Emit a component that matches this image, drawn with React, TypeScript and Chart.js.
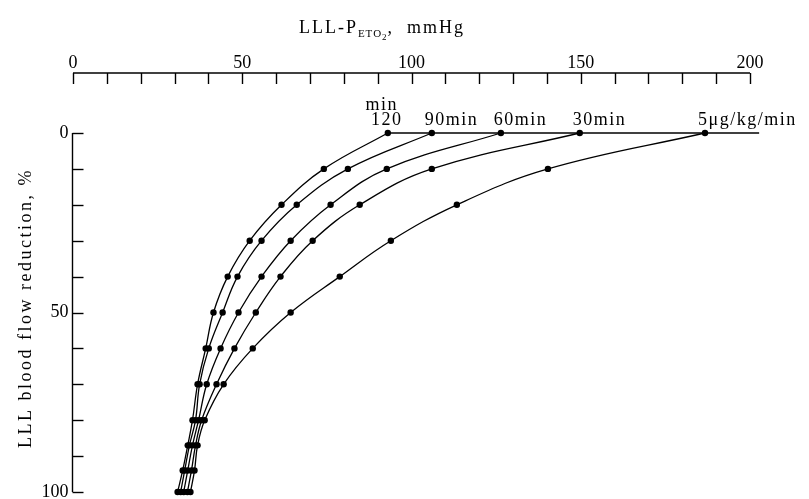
import React, { useEffect, useRef } from "react";
import { Chart, registerables } from "chart.js";

Chart.register(...registerables);

// LLL blood flow reduction (%) levels at which PETO2 was read
const reductionLevels = [0, 10, 20, 30, 40, 50, 60, 70, 80, 87, 94, 100];

// LLL-PETO2 (mmHg) for each infusion time
const peto2_120min = [93.0, 74.1, 61.6, 52.2, 45.7, 41.5, 39.2, 36.8, 35.3, 33.9, 32.4, 30.9];
const peto2_90min = [106.0, 81.2, 66.1, 55.7, 48.6, 44.2, 40.1, 37.4, 36.2, 34.4, 33.0, 31.8];
const peto2_60min = [126.4, 92.7, 76.1, 64.3, 55.7, 48.9, 43.6, 39.5, 37.1, 35.3, 33.9, 32.7];
const peto2_30min = [149.7, 106.0, 84.7, 70.8, 61.3, 54.0, 47.7, 42.4, 38.0, 36.2, 35.0, 33.8];
const peto2_5ug = [186.7, 140.3, 113.4, 93.9, 78.8, 64.3, 53.1, 44.5, 38.9, 36.8, 35.9, 34.7];

// zero-reduction baseline line
const baselineX = [93.0, 202.7];
const baselineY = [0, 0];

const seriesLabels = ["120", "90min", "60min", "30min", "5\u03bcg/kg/min"];
const headerLabel = "min";

const xTickValues = [0, 10, 20, 30, 40, 50, 60, 70, 80, 90, 100, 110, 120, 130, 140, 150, 160, 170, 180, 190, 200];
const xLabelValues = [0, 50, 100, 150, 200];
const xLabelTexts = ["0", "50", "100", "150", "200"];
const yTickValues = [0, 10, 20, 30, 40, 50, 60, 70, 80, 90, 100];
const yLabelValues = [0, 50, 100];
const yLabelTexts = ["0", "50", "100"];

const FONT = '"Liberation Serif", "DejaVu Serif", serif';

const axesPlugin = {
  id: "customAxes",
  afterDraw(chart: any) {
    const ctx = chart.ctx as CanvasRenderingContext2D;
    const xs = chart.scales.x;
    const ys = chart.scales.y;
    ctx.save();
    ctx.strokeStyle = "#000";
    ctx.fillStyle = "#000";
    ctx.lineWidth = 1.4;

    // top x axis
    const axisY = 73;
    ctx.beginPath();
    ctx.moveTo(xs.getPixelForValue(0), axisY);
    ctx.lineTo(xs.getPixelForValue(200), axisY);
    ctx.stroke();
    xTickValues.forEach((v) => {
      const px = Math.round(xs.getPixelForValue(v)) + 0.5;
      ctx.beginPath();
      ctx.moveTo(px, axisY);
      ctx.lineTo(px, axisY + 11);
      ctx.stroke();
    });
    ctx.font = `18px ${FONT}`;
    ctx.textAlign = "center";
    ctx.textBaseline = "alphabetic";
    xLabelValues.forEach((v, i) => {
      ctx.fillText(xLabelTexts[i], xs.getPixelForValue(v), 68);
    });

    // left y axis
    const axisX = Math.round(xs.getPixelForValue(0)) - 0.5;
    ctx.beginPath();
    ctx.moveTo(axisX, ys.getPixelForValue(0));
    ctx.lineTo(axisX, ys.getPixelForValue(100));
    ctx.stroke();
    yTickValues.forEach((v) => {
      const py = Math.round(ys.getPixelForValue(v)) + 0.5;
      ctx.beginPath();
      ctx.moveTo(axisX, py);
      ctx.lineTo(axisX + 11, py);
      ctx.stroke();
    });
    ctx.textAlign = "right";
    ctx.textBaseline = "middle";
    yLabelValues.forEach((v, i) => {
      ctx.fillText(yLabelTexts[i], axisX - 4, ys.getPixelForValue(v));
    });

    // x title with subscripts
    const parts: [string, number, number, number][] = [
      ["LLL-P", 18, 0, 2],
      ["ETO", 11, 4, 1],
      ["2", 9, 7, 1],
      [",  mmHg", 18, 0, 2],
    ];
    let total = 0;
    parts.forEach(([t, s, , ls]) => {
      ctx.font = `${s}px ${FONT}`;
      (ctx as any).letterSpacing = `${ls}px`;
      total += ctx.measureText(t).width;
    });
    let cx = 382 - total / 2;
    ctx.textAlign = "left";
    ctx.textBaseline = "alphabetic";
    parts.forEach(([t, s, dy, ls]) => {
      ctx.font = `${s}px ${FONT}`;
      (ctx as any).letterSpacing = `${ls}px`;
      ctx.fillText(t, cx, 33 + dy);
      cx += ctx.measureText(t).width;
    });
    (ctx as any).letterSpacing = "0px";

    // y title
    ctx.save();
    ctx.translate(26, 308);
    ctx.rotate(-Math.PI / 2);
    ctx.font = `18px ${FONT}`;
    (ctx as any).letterSpacing = "2.5px";
    ctx.textAlign = "center";
    ctx.textBaseline = "middle";
    ctx.fillText("LLL blood flow reduction, %", 0, 0);
    ctx.restore();

    // curve labels at top points
    ctx.font = `18px ${FONT}`;
    ctx.textBaseline = "alphabetic";
    (ctx as any).letterSpacing = "1.5px";
    for (let i = 0; i < seriesLabels.length; i++) {
      const pt = chart.getDatasetMeta(i).data[0];
      if (!pt) continue;
      if (i === 0) {
        ctx.textAlign = "center";
        ctx.fillText(seriesLabels[i], pt.x - 1, pt.y - 8);
        ctx.fillText(headerLabel, pt.x - 6, pt.y - 23);
      } else {
        ctx.textAlign = "left";
        ctx.fillText(seriesLabels[i], pt.x - 7, pt.y - 8);
      }
    }
    (ctx as any).letterSpacing = "0px";
    ctx.restore();
  },
};

const makeSeries = (label: string, xs: number[]) => ({
  label,
  data: reductionLevels.map((y, i) => ({ x: xs[i], y })),
  borderColor: "#000",
  backgroundColor: "#000",
  borderWidth: 1.3,
  pointRadius: 3.2,
  pointBorderWidth: 0,
  pointBackgroundColor: "#000",
  tension: 0.4,
  fill: false,
  clip: false as any,
});

export default function App() {
  const ref = useRef<HTMLCanvasElement | null>(null);
  useEffect(() => {
    if (!ref.current) return;
    const chart = new Chart(ref.current, {
      type: "line",
      data: {
        datasets: [
          makeSeries("120min", peto2_120min),
          makeSeries("90min", peto2_90min),
          makeSeries("60min", peto2_60min),
          makeSeries("30min", peto2_30min),
          makeSeries("5ug/kg/min", peto2_5ug),
          {
            label: "baseline",
            data: baselineX.map((x, i) => ({ x, y: baselineY[i] })),
            borderColor: "#000",
            borderWidth: 1.3,
            pointRadius: 0,
            tension: 0,
            fill: false,
            clip: false as any,
          },
        ],
      },
      options: {
        responsive: false,
        devicePixelRatio: 1,
        animation: false,
        layout: { padding: { left: 73, right: 59, top: 133, bottom: 7 } },
        scales: {
          x: { type: "linear", min: 0, max: 200, display: false },
          y: { type: "linear", min: 0, max: 100, reverse: true, display: false },
        },
        plugins: { legend: { display: false }, tooltip: { enabled: false } },
      },
      plugins: [axesPlugin],
    });
    return () => chart.destroy();
  }, []);
  return (
    <div style={{ position: "fixed", left: 0, top: 0, width: 809, height: 499, background: "#fff" }}>
      <canvas ref={ref} width={809} height={499} style={{ width: 809, height: 499 }} />
    </div>
  );
}
